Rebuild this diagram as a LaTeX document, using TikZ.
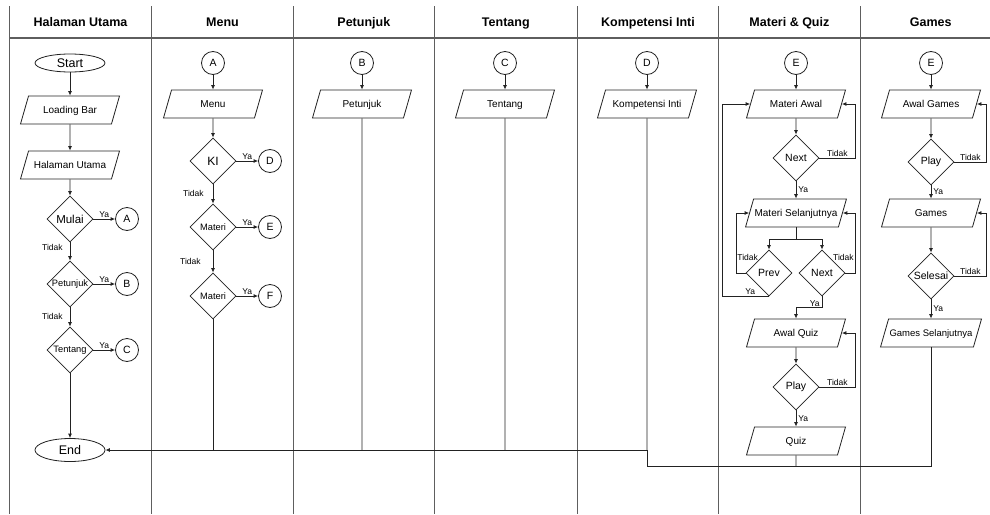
\documentclass[tikz,border=0pt]{standalone}
\usepackage{fontspec}
\setmainfont{Liberation Sans}
\usetikzlibrary{shapes.geometric,arrows.meta,calc}
\definecolor{lanec}{HTML}{5E5E5E}
\definecolor{flowc}{HTML}{222222}
\newcommand\zw[1]{\makebox[0pt]{#1}}
\begin{document}
\begin{tikzpicture}[x=1pt,y=-1pt,
  lane/.style={draw=lanec, line width=1.1pt},
  flow/.style={draw=flowc, line width=0.8pt},
  arr/.style={flow, -{Latex[length=4.5pt,width=4pt]}},
  term/.style={ellipse, draw=flowc, line width=0.8pt, minimum width=70, inner sep=0, font=\fontsize{12.5}{13}\selectfont},
  io/.style={trapezium, trapezium left angle=74, trapezium right angle=106, trapezium stretches body, draw=flowc, line width=0.8pt, minimum width=99, text height=7.2pt, text depth=0pt, inner ysep=10.4pt, inner xsep=1pt, font=\fontsize{10}{11}\selectfont},
  dec/.style={diamond, draw=flowc, line width=0.8pt, minimum width=46, minimum height=46, inner sep=0, font=\fontsize{10.5}{11}\selectfont},
  decs/.style={dec, font=\fontsize{9.3}{10}\selectfont},
  conn/.style={circle, draw=flowc, line width=0.8pt, minimum size=23, inner sep=0, font=\fontsize{10.5}{11}\selectfont},
  lbl/.style={font=\fontsize{8.5}{9}\selectfont, inner sep=1pt},
  hdr/.style={font=\bfseries\fontsize{12.5}{13}\selectfont, text height=9pt, text depth=0pt, inner sep=0}
]
\useasboundingbox[fill=white] (0,0) rectangle (990,514);

% swimlanes
\foreach \x in {9.3,151.7,293.3,434.3,577.3,718.7,860.4} \draw[lane] (\x,6) -- (\x,514);
\draw[lane] (9.3,38) -- (990,38);

\node[hdr] (h1) at (80.5,22) {Halaman Utama};
\node[hdr] (h2) at (222.5,22) {Menu};
\node[hdr] (h3) at (363.8,22) {Petunjuk};
\node[hdr] (h4) at (505.8,22) {Tentang};
\node[hdr] (h5) at (648,22) {Kompetensi Inti};
\node[hdr] (h6) at (789.4,22) {Materi \& Quiz};
\node[hdr] (h7) at (930.7,22) {Games};

% Halaman Utama
\node[term, minimum height=18] (start) at (70,63) {Start};
\node[io] (load) at (70,110) {Loading Bar};
\node[io] (hal) at (70,165) {Halaman Utama};
\node[dec, font=\fontsize{11.5}{12}\selectfont] (mulai) at (70,219) {\zw{Mulai}};
\node[conn] (cA) at (127,219) {A};
\node[decs] (pet) at (70,284) {\zw{Petunjuk}};
\node[conn] (cB) at (127,284) {B};
\node[decs] (ten) at (70,350) {\zw{Tentang}};
\node[conn] (cC) at (127,350) {C};
\node[term, minimum height=23] (end) at (70,450) {End};

\draw[arr] (start) -- (load);
\draw[arr] (load) -- (hal);
\draw[arr] (hal) -- (mulai);
\draw[arr] (mulai) -- node[lbl, above] {Ya} (cA);
\draw[arr] (mulai) -- node[lbl, left=6pt, pos=0.3] {Tidak} (pet);
\draw[arr] (pet) -- node[lbl, above] {Ya} (cB);
\draw[arr] (pet) -- node[lbl, left=6pt, pos=0.45] {Tidak} (ten);
\draw[arr] (ten) -- node[lbl, above] {Ya} (cC);
\draw[arr] (ten) -- (end);

% Menu
\node[conn] (mA) at (213,63) {A};
\node[io] (menu) at (213,104) {Menu};
\node[dec, font=\fontsize{12}{12}\selectfont] (ki) at (213,161) {\zw{KI}};
\node[conn] (mD) at (270,161) {D};
\node[decs] (mat1) at (213,227) {\zw{Materi}};
\node[conn] (mE) at (270,227) {E};
\node[decs] (mat2) at (213,296) {\zw{Materi}};
\node[conn] (mF) at (270,296) {F};

\draw[arr] (mA) -- (menu);
\draw[arr] (menu) -- (ki);
\draw[arr] (ki) -- node[lbl, above] {Ya} (mD);
\draw[arr] (ki) -- node[lbl, left=8pt, pos=0.45] {Tidak} (mat1);
\draw[arr] (mat1) -- node[lbl, above] {Ya} (mE);
\draw[arr] (mat1) -- node[lbl, left=11pt, pos=0.5] {Tidak} (mat2);
\draw[arr] (mat2) -- node[lbl, above] {Ya} (mF);
\draw[flow] (mat2.south) -- (mat2 |- end);

% Petunjuk
\node[conn] (pB) at (362,63) {B};
\node[io] (petp) at (362,104) {Petunjuk};
\draw[arr] (pB) -- (petp);
\draw[flow] (petp.south) -- (petp |- end);

% Tentang
\node[conn] (tC) at (505,63) {C};
\node[io] (tenp) at (505,104) {Tentang};
\draw[arr] (tC) -- (tenp);
\draw[flow] (tenp.south) -- (tenp |- end);

% Kompetensi Inti
\node[conn] (kD) at (647,63) {D};
\node[io] (kom) at (647,104) {Kompetensi Inti};
\draw[arr] (kD) -- (kom);

% Materi & Quiz
\node[conn] (qE) at (796,63) {E};
\node[io] (mawal) at (796,104) {Materi Awal};
\node[dec] (next1) at (796,158) {\zw{Next}};
\node[io] (msel) at (796,213) {Materi Selanjutnya};
\node[dec] (prev) at (769,273) {\zw{Prev}};
\node[dec] (next2) at (822,273) {\zw{Next}};
\node[io] (aquiz) at (796,333) {Awal Quiz};
\node[dec] (play1) at (796,387) {\zw{Play}};
\node[io] (quiz) at (796,441) {Quiz};

\draw[arr] (qE) -- (mawal);
\draw[arr] (mawal) -- (next1);
\draw[arr] (next1) -- node[lbl, right=1pt] {Ya} (msel);
\draw[arr] (next1.east) -- node[lbl, above] {Tidak} ++(36,0) |- (mawal.east);
\draw[flow] (msel.south) -- ++(0,12) coordinate (split);
\draw[arr] (split) -| (prev.north);
\draw[arr] (split) -| (next2.north);
\draw[arr] (prev.west) -- ++(-9,0) |- (msel.west);
\node[lbl] (tp) at ($(prev.west)+(2,-16)$) {Tidak};
\draw[arr] (prev.south) -- node[lbl, above, pos=0.4] {Ya} ++(-47,0) |- (mawal.west);
\draw[arr] (next2.east) -- ++(10,0) |- (msel.east);
\node[lbl] (tn) at ($(next2.east)+(-2,-16)$) {Tidak};
\draw[arr] (next2.south) -- node[lbl, left=1pt, pos=0.7] {Ya} ++(0,11) -| (aquiz.north);
\draw[arr] (aquiz) -- (play1);
\draw[arr] (play1.east) -- node[lbl, above] {Tidak} ++(36,0) |- (aquiz.east);
\draw[arr] (play1) -- node[lbl, right=1pt] {Ya} (quiz);

% Games
\node[conn] (gE) at (931,63) {E};
\node[io] (ag) at (931,104) {Awal Games};
\node[dec] (play2) at (931,162) {\zw{Play}};
\node[io] (games) at (931,213) {Games};
\node[dec] (sel) at (931,276) {\zw{Selesai}};
\node[io, font=\fontsize{9.5}{10}\selectfont] (gsel) at (931,333) {Games Selanjutnya};

\draw[arr] (gE) -- (ag);
\draw[arr] (ag) -- (play2);
\draw[arr] (play2.east) -- node[lbl, above] {Tidak} ++(32,0) |- (ag.east);
\draw[arr] (play2) -- node[lbl, right=1pt] {Ya} (games);
\draw[arr] (games) -- (sel);
\draw[arr] (sel.east) -- node[lbl, above] {Tidak} ++(32,0) |- (games.east);
\draw[arr] (sel) -- node[lbl, right=1pt] {Ya} (gsel);

% join to End
\coordinate (jk) at (kom |- end);
\draw[flow] (kom.south) -- (jk);
\draw[arr] (jk) -- (end.east);
\draw[flow] (jk) -- ++(0,16) coordinate (jb) -| (gsel.south);
\draw[flow] (quiz.south) -- (quiz |- jb);
\end{tikzpicture}
\end{document}
